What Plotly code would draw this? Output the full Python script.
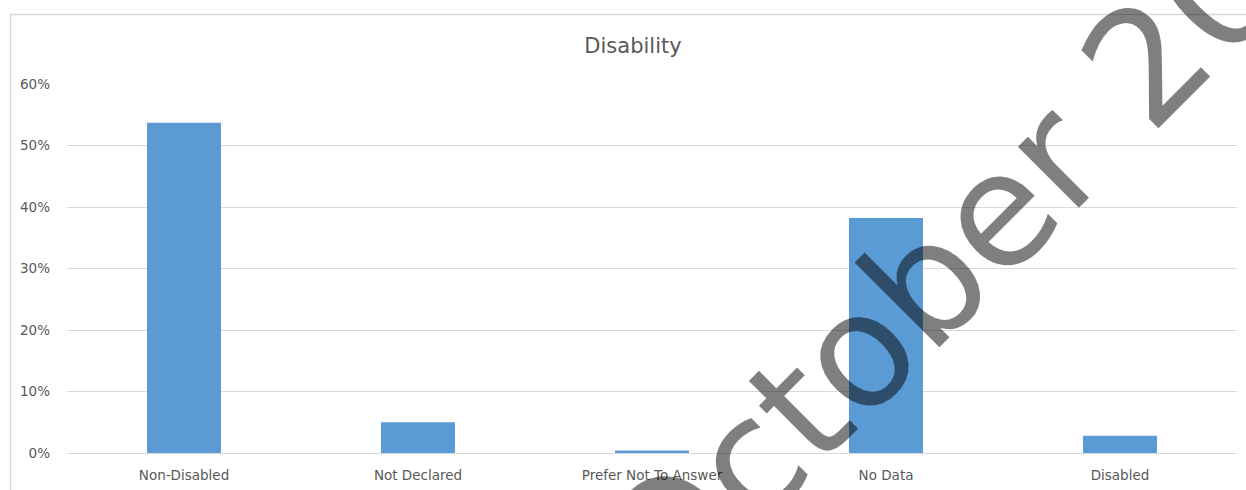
import plotly.graph_objects as go

# Share of records by disability status
categories = ["Non-Disabled", "Not Declared", "Prefer Not To Answer", "No Data", "Disabled"]
shares = [0.537, 0.050, 0.004, 0.382, 0.028]
y_ticks = [0, 0.1, 0.2, 0.3, 0.4, 0.5, 0.6]
y_tick_labels = ["0%", "10%", "20%", "30%", "40%", "50%", "60%"]
watermark = "October 2019"

W, H = 1246, 490
L, R, T, B = 67, 9, 84, 37
plot_w = W - L - R
plot_h = H - T - B

text_col = "#595959"
grid_col = "#d9d9d9"

fig = go.Figure(
    go.Bar(
        x=categories,
        y=shares,
        marker=dict(color="#5b9bd5", line=dict(width=0)),
        hoverinfo="x+y",
    )
)

def px_to_paper_x(px):
    return (px - L) / plot_w

def px_to_paper_y(py):
    return (H - B - py) / plot_h

fig.update_layout(
    width=W,
    height=H,
    margin=dict(l=L, r=R, t=T, b=B),
    paper_bgcolor="white",
    plot_bgcolor="white",
    bargap=0.684,
    showlegend=False,
    title=dict(
        text="Disability",
        x=633 / W,
        xanchor="center",
        xref="container",
        y=1 - 46 / H,
        yanchor="middle",
        yref="container",
        font=dict(family="DejaVu Sans", size=21, color=text_col),
    ),
    font=dict(family="DejaVu Sans", size=13.5, color=text_col),
)

fig.update_xaxes(
    automargin=False,
    showgrid=False,
    showline=False,
    zeroline=False,
    ticks="",
    tickfont=dict(family="DejaVu Sans", size=13.5, color=text_col),
    ticklabelstandoff=12,
)
fig.update_yaxes(
    automargin=False,
    range=[0, 0.6],
    tickvals=y_ticks,
    ticktext=y_tick_labels,
    showgrid=True,
    gridcolor=grid_col,
    gridwidth=1,
    zeroline=True,
    zerolinecolor=grid_col,
    zerolinewidth=1,
    showline=False,
    ticks="",
    tickfont=dict(family="DejaVu Sans", size=13.5, color=text_col),
    ticklabelstandoff=16,
)

# Chart-area frame
fig.add_shape(
    type="rect",
    xref="paper",
    yref="paper",
    x0=px_to_paper_x(10.5),
    x1=px_to_paper_x(W + 20),
    y0=px_to_paper_y(H + 20),
    y1=px_to_paper_y(14.5),
    line=dict(color=grid_col, width=1.3),
    fillcolor="rgba(0,0,0,0)",
    layer="below",
)

# Diagonal date stamp across the chart
fig.add_annotation(
    text=watermark,
    xref="paper",
    yref="paper",
    x=px_to_paper_x(1012),
    y=px_to_paper_y(197),
    xanchor="center",
    yanchor="middle",
    textangle=-45,
    showarrow=False,
    font=dict(family="DejaVu Sans", size=158, color="rgba(0,0,0,0.5)"),
)

fig.write_html("out.html")
